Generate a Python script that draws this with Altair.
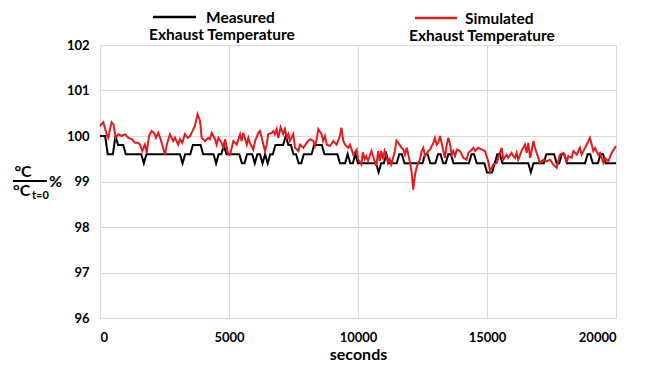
import altair as alt
import pandas as pd

# ---------------- data ----------------
meas_t = list(range(0, 20001, 100))
meas_v = [
    100.0, 100.0, 100.0, 99.6, 99.6, 99.6, 100.0, 99.8, 99.8, 99.8,
    99.6, 99.6, 99.6, 99.6, 99.6, 99.6, 99.6, 99.4, 99.6, 99.6,
    99.6, 99.6, 99.6, 99.6, 99.6, 99.6, 99.6, 99.6, 99.6, 99.6,
    99.6, 99.6, 99.4, 99.6, 99.6, 99.6, 99.8, 99.8, 99.8, 99.8,
    99.6, 99.6, 99.6, 99.6, 99.6, 99.4, 99.6, 99.6, 99.8, 99.6,
    99.6, 99.6, 99.6, 99.6, 99.6, 99.4, 99.4, 99.6, 99.6, 99.6,
    99.4, 99.6, 99.6, 99.4, 99.6, 99.4, 99.6, 99.6, 99.8, 99.8,
    99.8, 99.8, 100.0, 99.8, 99.8, 99.6, 99.6, 99.4, 99.4, 99.6,
    99.6, 99.6, 99.6, 99.8, 99.8, 99.8, 99.8, 99.6, 99.6, 99.6,
    99.6, 99.6, 99.6, 99.4, 99.4, 99.4, 99.6, 99.4, 99.4, 99.6,
    99.4, 99.4, 99.4, 99.4, 99.4, 99.4, 99.4, 99.4, 99.2, 99.4,
    99.4, 99.6, 99.4, 99.4, 99.4, 99.4, 99.6, 99.6, 99.4, 99.4,
    99.4, 99.4, 99.4, 99.4, 99.4, 99.4, 99.6, 99.6, 99.4, 99.4,
    99.4, 99.6, 99.6, 99.4, 99.4, 99.6, 99.6, 99.4, 99.4, 99.4,
    99.4, 99.4, 99.4, 99.4, 99.6, 99.6, 99.4, 99.4, 99.4, 99.4,
    99.2, 99.2, 99.2, 99.4, 99.6, 99.6, 99.4, 99.4, 99.4, 99.4,
    99.4, 99.4, 99.4, 99.4, 99.4, 99.4, 99.4, 99.2, 99.4, 99.4,
    99.4, 99.4, 99.4, 99.6, 99.6, 99.6, 99.6, 99.4, 99.4, 99.6,
    99.6, 99.4, 99.4, 99.4, 99.4, 99.4, 99.4, 99.4, 99.4, 99.6,
    99.6, 99.4, 99.4, 99.4, 99.6, 99.6, 99.4, 99.4, 99.4, 99.4,
    99.4,
]

sim_t = [
    0, 130, 260, 320, 450, 520, 610, 710, 840, 970,
    1100, 1230, 1360, 1480, 1550, 1640, 1740, 1810, 1900, 2000,
    2100, 2170, 2260, 2330, 2390, 2520, 2590, 2710, 2840, 2910,
    3030, 3100, 3190, 3290, 3400, 3490, 3550, 3680, 3780, 3880,
    3940, 4070, 4200, 4260, 4330, 4460, 4520, 4590, 4710, 4780,
    4850, 4970, 5040, 5170, 5300, 5430, 5490, 5550, 5690, 5750,
    5810, 5940, 6010, 6140, 6200, 6270, 6330, 6400, 6460, 6520,
    6660, 6720, 6780, 6850, 6910, 7000, 7100, 7170, 7240, 7300,
    7360, 7490, 7560, 7690, 7750, 7880, 8010, 8140, 8270, 8330,
    8400, 8460, 8590, 8650, 8720, 8790, 8910, 9040, 9170, 9300,
    9360, 9430, 9500, 9620, 9690, 9820, 9950, 10000, 10130, 10190,
    10260, 10320, 10390, 10520, 10580, 10710, 10780, 10840, 10900, 10970,
    11030, 11100, 11160, 11230, 11290, 11420, 11490, 11560, 11690, 11760,
    11820, 11890, 12020, 12080, 12140, 12210, 12280, 12400, 12470, 12530,
    12600, 12730, 12790, 12860, 12920, 12980, 13050, 13110, 13180, 13240,
    13310, 13370, 13440, 13500, 13570, 13630, 13690, 13760, 13830, 13950,
    14080, 14210, 14280, 14410, 14470, 14540, 14660, 14800, 14920, 15050,
    15120, 15180, 15240, 15380, 15500, 15570, 15630, 15760, 15820, 15950,
    16020, 16090, 16150, 16210, 16340, 16470, 16540, 16600, 16670, 16730,
    16800, 16860, 16990, 17050, 17180, 17310, 17440, 17570, 17700, 17760,
    17830, 17960, 18020, 18090, 18150, 18280, 18350, 18480, 18600, 18670,
    18800, 18990, 19060, 19120, 19190, 19310, 19380, 19510, 19570, 19700,
    19830, 20000,
]
sim_v = [
    100.22, 100.30, 100.04, 99.96, 100.30, 100.26, 99.96, 100.04, 100.00, 100.04,
    99.96, 99.93, 99.85, 99.85, 99.81, 99.67, 99.81, 99.63, 100.00, 100.11,
    100.07, 99.96, 100.07, 99.96, 99.85, 99.59, 99.81, 100.04, 99.89, 99.96,
    99.81, 99.93, 99.85, 100.04, 99.96, 100.00, 100.07, 100.22, 100.48, 100.33,
    99.96, 99.89, 99.96, 99.93, 100.07, 99.93, 99.81, 99.96, 99.85, 99.74,
    99.93, 99.59, 99.59, 99.89, 99.81, 100.04, 99.89, 100.07, 99.81, 99.96,
    99.85, 99.70, 99.89, 100.07, 100.11, 99.96, 99.81, 99.67, 99.81, 100.04,
    100.07, 100.11, 100.04, 100.15, 99.96, 100.19, 100.04, 100.15, 99.96, 100.04,
    99.89, 100.04, 99.74, 99.67, 99.81, 99.74, 99.85, 99.93, 99.89, 99.78,
    99.93, 100.15, 100.04, 99.89, 100.00, 99.81, 99.78, 99.89, 99.81, 100.00,
    100.18, 99.89, 99.81, 99.74, 99.81, 99.59, 99.70, 99.49, 99.38, 99.64,
    99.49, 99.56, 99.45, 99.67, 99.56, 99.34, 99.67, 99.45, 99.67, 99.49,
    99.67, 99.56, 99.41, 99.49, 99.38, 99.64, 99.90, 99.85, 99.74, 99.70,
    99.59, 99.74, 99.41, 99.19, 98.82, 99.15, 99.33, 99.48, 99.67, 99.74,
    99.56, 99.67, 99.70, 99.78, 99.85, 99.96, 99.81, 99.85, 100.00, 99.85,
    99.67, 99.52, 99.81, 99.96, 99.81, 99.59, 99.67, 99.56, 99.70, 99.67,
    99.52, 99.48, 99.63, 99.70, 99.74, 99.67, 99.74, 99.70, 99.67, 99.44,
    99.22, 99.30, 99.37, 99.41, 99.63, 99.74, 99.48, 99.59, 99.52, 99.63,
    99.56, 99.52, 99.63, 99.48, 99.67, 99.81, 99.63, 99.85, 99.52, 99.67,
    99.89, 99.74, 99.52, 99.41, 99.48, 99.44, 99.48, 99.37, 99.30, 99.44,
    99.59, 99.63, 99.56, 99.41, 99.56, 99.52, 99.67, 99.59, 99.74, 99.59,
    99.74, 99.96, 99.81, 99.67, 99.74, 99.59, 99.63, 99.41, 99.52, 99.44,
    99.63, 99.78,
]

x_ticks = [0, 5000, 10000, 15000, 20000]
y_ticks = [96, 97, 98, 99, 100, 101, 102]
legend_line1 = "Measured"
legend_line2 = "Simulated"
legend_sub = "Exhaust Temperature"
x_title = "seconds"

FONT = "Lato"
RED = "#e41a1c"
GRID = "#d9d9d9"

meas_df = pd.DataFrame({"t": meas_t, "v": meas_v})
sim_df = pd.DataFrame({"t": sim_t, "v": sim_v})

x_enc = alt.X(
    "t:Q",
    scale=alt.Scale(domain=[0, 20000], nice=False),
    axis=alt.Axis(values=x_ticks, format="d", title=x_title, grid=True,
                  labelPadding=13, titlePadding=2),
)
y_enc = alt.Y(
    "v:Q",
    scale=alt.Scale(domain=[96, 102], nice=False),
    axis=alt.Axis(values=y_ticks, title=None, grid=True, labelPadding=11),
)

meas_line = alt.Chart(meas_df).mark_line(color="black", strokeWidth=2).encode(x=x_enc, y=y_enc)
sim_line = alt.Chart(sim_df).mark_line(color=RED, strokeWidth=2).encode(x=x_enc, y=y_enc)

one = pd.DataFrame({"a": [0]})


def txt(s, x, y, size=16, align="left", weight="bold", color="black"):
    return alt.Chart(one).mark_text(
        text=s, align=align, baseline="middle", font=FONT, fontSize=size,
        fontWeight=weight, color=color,
    ).encode(x=alt.value(x), y=alt.value(y))


def seg(x1, x2, y, color, w=2):
    return alt.Chart(one).mark_rule(color=color, strokeWidth=w).encode(
        x=alt.value(x1), x2=alt.value(x2), y=alt.value(y))


LEG = 15.5
legend = [
    seg(53, 96, -28, "black", 2.5),
    txt(legend_line1, 106, -27, size=LEG),
    txt(legend_sub, 122, -10, size=LEG, align="center"),
    seg(315, 357, -27, RED, 2.5),
    txt(legend_line2, 365, -26, size=LEG),
    txt(legend_sub, 382, -9, size=LEG, align="center"),
]

ytitle = [
    txt("°C", -77, 127, size=16, align="center"),
    seg(-87, -53, 136, "black", 2),
    txt("°C", -87, 146, size=16),
    txt("t=0", -68, 151, size=11),
    txt("%", -51, 137, size=16),
]

chart = alt.layer(meas_line, sim_line, *legend, *ytitle).properties(
    width=516, height=273,
    autosize=alt.AutoSizeParams(type="none"),
    padding={"left": 92, "top": 37, "right": 20, "bottom": 45},
).configure_view(stroke=None).configure_axis(
    domain=False, ticks=False, gridColor=GRID, gridWidth=1,
    labelFont=FONT, labelFontSize=13, labelFontWeight="bold", labelColor="black",
    titleFont=FONT, titleFontSize=16, titleFontWeight="bold", titleColor="black",
)

chart.save("out.html", embed_options={"renderer": "svg", "actions": False})
